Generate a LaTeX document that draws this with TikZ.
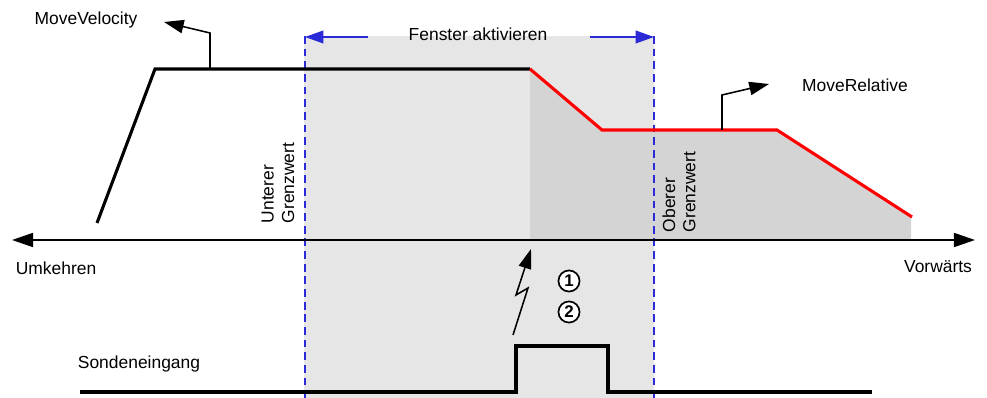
\documentclass[tikz,border=0pt]{standalone}
\usepackage{fontspec}
\setmainfont{Liberation Sans}
\usetikzlibrary{arrows.meta}
\definecolor{lightgr}{HTML}{E6E6E6}
\definecolor{darkgr}{HTML}{D4D4D4}
\definecolor{dblue}{HTML}{2A2AD6}
\begin{document}
\begin{tikzpicture}[x=0.025cm,y=-0.025cm,
  lbl/.style={font=\fontsize{12.4}{14.5}\selectfont, inner sep=0pt},
  rot/.style={lbl, rotate=90, align=left},
  prof/.style={line width=2.2pt, line join=miter},
  ptr/.style={line width=1.1pt, -{Triangle[length=14pt,width=9.5pt]}},
  win/.style={dblue, line width=1pt, dash pattern=on 5.5pt off 3.5pt},
  warr/.style={dblue, line width=1.1pt, -{Triangle[length=13pt,width=9pt]}},
  num/.style={circle, draw, line width=1.2pt, fill=white, inner sep=0pt, minimum size=15pt, font=\fontsize{12}{14}\selectfont\bfseries}]
\useasboundingbox (0,0) rectangle (987,398);
% shaded areas
\fill[lightgr] (304,36) rectangle (654,398);
\fill[darkgr] (530,69) -- (602,130) -- (777,130) -- (911,217) -- (911,240) -- (530,240) -- cycle;
% coordinates
\coordinate (vA) at (97,223);
\coordinate (vB) at (155,69);
\coordinate (vC) at (530,69);
\coordinate (rB) at (602,130);
\coordinate (rC) at (777,130);
\coordinate (rD) at (912,217);
\coordinate (axL) at (12,240);
\coordinate (axR) at (975,240);
% window lines
\coordinate (wlT) at (305,36);
\coordinate (wlB) at (305,398);
\coordinate (wrT) at (654,36);
\coordinate (wrB) at (654,398);
\draw[win] (wlT) -- (wlB);
\draw[win] (wrT) -- (wrB);
\node[lbl] (fen) at (478,34) {Fenster aktivieren};
\coordinate (wlS) at (368,37);
\coordinate (wrS) at (590,37);
\draw[warr] (wlS) -- (wlT |- wlS);
\draw[warr] (wrS) -- (wrT |- wrS);
% axis
\draw[line width=1.2pt, {Triangle[length=15pt,width=10pt]}-{Triangle[length=15pt,width=10pt]}] (axL) -- (axR);
\node[lbl] (umk) at (56,268) {Umkehren};
\node[lbl] (vor) at (938,267) {Vorwärts};
% profiles
\draw[prof] (vA) -- (vB) -- (vC);
\draw[prof, red] (vC) -- (rB) -- (rC) -- (rD);
% MoveVelocity
\node[lbl] (mv) at (86,20) {MoveVelocity};
\coordinate (mvA) at (210,69);
\coordinate (mvB) at (210,33);
\coordinate (mvT) at (164,22);
\draw[ptr] (mvA) -- (mvB) -- (mvT);
% MoveRelative
\node[lbl] (mr) at (855,85) {MoveRelative};
\coordinate (mrA) at (722,130);
\coordinate (mrB) at (722,95);
\coordinate (mrT) at (769,84);
\draw[ptr] (mrA) -- (mrB) -- (mrT);
% limit labels
\node[rot] (unt) at (278,183) {Unterer\\Grenzwert};
\node[rot] (obe) at (679,192) {Oberer\\Grenzwert};
% lightning
\coordinate (l1) at (513,335);
\coordinate (l2) at (528,288);
\coordinate (l3) at (516,295);
\coordinate (l4) at (531,249);
\draw[line width=1.1pt, -{Triangle[length=14pt,width=9pt]}] (l1) -- (l2) -- (l3) -- (l4);
\node[num] (n1) at (569,281) {1};
\node[num] (n2) at (569,312) {2};
% probe signal
\node[lbl] (son) at (139,364) {Sondeneingang};
\coordinate (s0) at (80,392);
\coordinate (s1) at (516,392);
\coordinate (s2) at (516,346);
\coordinate (s3) at (608,346);
\coordinate (s4) at (608,392);
\coordinate (s5) at (872,392);
\draw[prof] (s0) -- (s1) -- (s2) -- (s3) -- (s4) -- (s5);
\end{tikzpicture}
\end{document}
